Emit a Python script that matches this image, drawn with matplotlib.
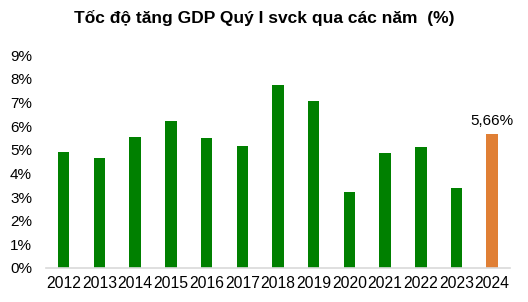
import matplotlib.pyplot as plt

plt.rcParams['font.family'] = ['Liberation Sans', 'DejaVu Sans']

years = ['2012', '2013', '2014', '2015', '2016', '2017', '2018',
         '2019', '2020', '2021', '2022', '2023', '2024']
growth = [4.92, 4.67, 5.52, 6.23, 5.48, 5.15, 7.74, 7.07, 3.22, 4.85, 5.10, 3.40, 5.66]
colors = ['#008000'] * 12 + ['#E07F35']

fig = plt.figure(figsize=(5.28, 3.02), dpi=100)
ax = fig.add_axes([0.087, 0.1126, 0.879, 0.705])

x = range(len(years))
ax.bar(x, growth, width=0.32, color=colors)
ax.text(12, growth[-1] + 0.25, '5,66%', ha='center', va='bottom', fontsize=11)

ax.set_xlim(-0.5, 12.5)
ax.set_ylim(0, 9)
ax.set_xticks(list(x))
ax.set_xticklabels(years, fontsize=11.3)
ax.set_yticks(range(10))
ax.set_yticklabels([f'{i}%' for i in range(10)], fontsize=11)
ax.tick_params(length=0, pad=6)
ax.tick_params(axis='y', pad=10)

for s in ['top', 'right', 'left']:
    ax.spines[s].set_visible(False)
ax.spines['bottom'].set_color('#D9D9D9')
ax.spines['bottom'].set_linewidth(1.2)

fig.text(0.5, 0.94, 'Tốc độ tăng GDP Quý I svck qua các năm  (%)',
         ha='center', va='center', fontsize=12.5, fontweight='bold')

fig.savefig('out.png', dpi=100)
